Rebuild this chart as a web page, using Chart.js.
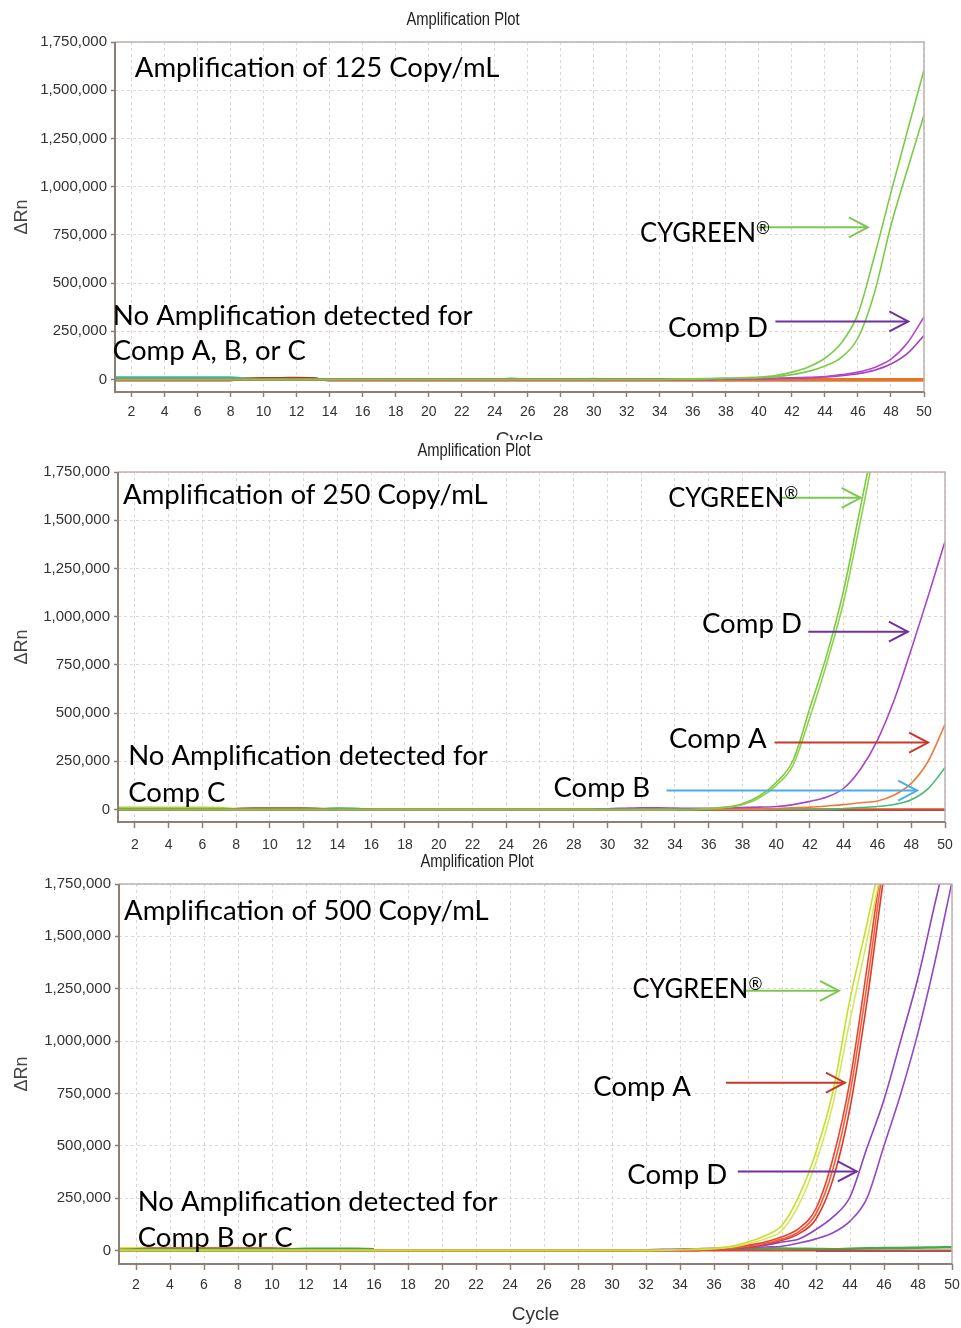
<!DOCTYPE html>
<html><head><meta charset="utf-8">
<script src="https://cdn.jsdelivr.net/npm/chart.js@4.4.0/dist/chart.umd.min.js"></script>
<style>
html,body{margin:0;padding:0;background:#fff;}
body{width:961px;height:1328px;position:relative;overflow:hidden;}
.panel{position:absolute;left:0;width:961px;background:#fff;}
canvas{display:block;}
</style></head><body>
<div class="panel" style="top:0;height:460px;z-index:1"><canvas id="c1" width="961" height="460"></canvas></div>
<div class="panel" style="top:440px;height:420px;z-index:2"><canvas id="c2" width="961" height="420"></canvas></div>
<div class="panel" style="top:852px;height:476px;z-index:3"><canvas id="c3" width="961" height="476"></canvas></div>
<script>
// ---------- data ----------
const cycles = [1,2,3,4,5,6,7,8,9,10,11,12,13,14,15,16,17,18,19,20,21,22,23,24,25,26,27,28,29,30,31,32,33,34,35,36,37,38,39,40,41,42,43,44,45,46,47,48,49,50];
const xTickValues = [2,4,6,8,10,12,14,16,18,20,22,24,26,28,30,32,34,36,38,40,42,44,46,48,50];
const yTickValues = [0,250000,500000,750000,1000000,1250000,1500000,1750000];

// Panel 1: 125 Copy/mL
const p1Cygreen1 = [0,0,0,0,0,0,0,0,0,0, 0,0,0,0,0,0,0,0,0,0, 0,0,0,0,0,0,0,0,0,0, 0,0,0,0,2000,3000,5000,7000,9000,12000, 20000,38000,65000,110000,190000,340000,640000,970000,1290000,1605000];
const p1Cygreen2 = [0,0,0,0,0,0,0,0,0,0, 0,0,0,0,0,0,0,0,0,0, 0,0,0,0,0,0,0,0,0,0, 0,0,0,0,1000,2000,4000,5000,7000,9000, 14000,25000,42000,70000,115000,215000,450000,800000,1090000,1371000];
const p1CompD1 = [0,0,0,0,0,0,0,0,0,0, 0,0,0,0,0,0,0,0,0,0, 0,0,0,0,0,0,0,0,0,0, 0,0,0,0,0,0,0,2000,3000,5000, 6000,8000,11000,15000,25000,38000,62000,105000,190000,324000];
const p1CompD2 = [0,0,0,0,0,0,0,0,0,0, 0,0,0,0,0,0,0,0,0,0, 0,0,0,0,0,0,0,0,0,0, 0,0,0,0,0,0,0,2000,3000,4000, 5000,7000,9000,13000,20000,30000,48000,80000,135000,228000];
const p1CompA = [0,0,0,0,0,0,0,0,0,0, 0,0,0,0,0,0,0,0,0,0, 0,0,0,0,0,0,0,0,0,0, 0,0,0,0,0,0,0,0,0,0, 0,0,0,0,0,0,0,0,0,0];
const p1CompB = [12000,12000,12000,12000,12000,12000,12000,12000,4000,0, 0,0,0,0,0,0,0,0,0,0, 0,0,0,0,5000,0,0,0,0,4000, 0,0,0,0,0,0,0,0,0,0, 0,0,3000,4000,3000,0,0,0,0,0];
const p1CompC = [-5000,-5000,-5000,-5000,-5000,-5000,-5000,-5000,6000,8000, 8000,9000,7000,-5000,-5000,-5000,-5000,-5000,-5000,-5000, -5000,-5000,-5000,-5000,-5000,-5000,-5000,-5000,-5000,-5000, -5000,-5000,-5000,-5000,-5000,-5000,-5000,-5000,-5000,-5000, -5000,-5000,-5000,-5000,-5000,-5000,-5000,-5000,-5000,-5000];

// Panel 2: 250 Copy/mL
const p2Cygreen1 = [0,0,0,0,0,0,0,0,0,0, 0,0,0,0,0,0,0,0,0,0, 0,0,0,0,0,0,0,0,0,0, 0,0,0,0,0,5000,12000,30000,70000,140000, 255000,527000,803000,1139000,1571000,1990000,2300000,2550000,2750000,2900000];
const p2Cygreen2 = [0,0,0,0,0,0,0,0,0,0, 0,0,0,0,0,0,0,0,0,0, 0,0,0,0,0,0,0,0,0,0, 0,0,0,0,0,4000,10000,25000,60000,125000, 230000,480000,760000,1080000,1500000,1930000,2250000,2500000,2700000,2850000];
const p2CompD = [0,0,0,0,0,0,0,0,0,0, 0,0,0,0,0,0,0,0,0,0, 0,0,0,0,0,0,0,0,0,4000, 6000,8000,8000,7000,6000,6000,8000,10000,12000,15000, 25000,42000,65000,110000,210000,360000,570000,830000,1105000,1390000];
const p2CompA = [0,0,0,0,0,0,0,0,0,0, 0,0,0,0,0,0,0,0,0,0, 0,0,0,0,0,0,0,0,0,0, 0,0,0,0,0,0,0,0,0,5000, 8000,12000,18000,25000,35000,44000,75000,135000,250000,440000];
const p2CompB = [0,0,0,0,0,0,0,0,0,0, 0,0,0,0,0,0,0,0,0,0, 0,0,0,0,0,0,0,0,0,0, 0,0,0,0,0,0,0,0,0,0, 0,0,0,5000,10000,15000,26000,50000,108000,216000];
const p2Base = [0,0,0,0,0,0,0,0,0,0, 0,0,0,0,0,0,0,0,0,0, 0,0,0,0,0,0,0,0,0,0, 0,0,0,0,0,0,0,0,0,0, 0,0,0,0,0,0,0,0,0,0];
const p2Navy = [null,null,null,null,null,null,null,null,null,null, null,null,null,null,null,null,null,null,null,null, null,null,null,null,null,null,null,null,null,null, null,null,null,-3000,-3000,-3000,-3000,-3000,-3000,-3000, -3000,-3000,-3000,-3000,-3000,-3000,-3000,-3000,-3000,-3000];
const p2Noise1 = [10000,10000,10000,10000,10000,10000,9000,3000,null,null, null,null,null,null,null,null,null,null,null,null, null,null,null,null,null,null,null,null,null,null, null,null,null,null,null,null,null,null,null,null, null,null,null,null,null,null,null,null,null,null];
const p2Noise2 = [0,0,0,0,0,0,0,4000,6000,6000, 6000,6000,4000,0,null,null,null,null,null,null, null,null,null,null,null,null,null,null,null,null, null,null,null,null,null,null,null,null,null,null, null,null,null,null,null,null,null,null,null,null];
const p2Noise3 = [null,null,null,null,null,null,null,null,null,-2000, -2000,-1000,3000,6000,5000,0,null,null,null,null, null,null,null,null,null,null,null,null,null,null, null,null,null,null,null,null,null,null,null,null, null,null,null,null,null,null,null,null,null,null];

// Panel 3: 500 Copy/mL
const p3Cygreen1 = [0,0,0,0,0,0,0,0,0,0, 0,0,0,0,0,0,0,0,0,0, 0,0,0,0,0,0,0,0,0,0, 0,0,2000,4000,6000,10000,20000,40000,70000,120000, 260000,470000,760000,1200000,1560000,1950000,2300000,2600000,2850000,3050000];
const p3Cygreen2 = [0,0,0,0,0,0,0,0,0,0, 0,0,0,0,0,0,0,0,0,0, 0,0,0,0,0,0,0,0,0,0, 0,0,0,3000,5000,8000,15000,32000,55000,95000, 220000,420000,700000,1100000,1480000,1880000,2250000,2550000,2800000,3000000];
const p3CompA1 = [0,0,0,0,0,0,0,0,0,0, 0,0,0,0,0,0,0,0,0,0, 0,0,0,0,0,0,0,0,0,0, 0,0,0,3000,5000,8000,14000,25000,40000,65000, 105000,200000,440000,810000,1350000,1920000,2400000,2800000,3100000,3300000];
const p3CompA2 = [0,0,0,0,0,0,0,0,0,0, 0,0,0,0,0,0,0,0,0,0, 0,0,0,0,0,0,0,0,0,0, 0,0,0,0,0,6000,10000,20000,33000,55000, 90000,175000,390000,750000,1270000,1860000,2350000,2750000,3050000,3250000];
const p3CompA3 = [0,0,0,0,0,0,0,0,0,0, 0,0,0,0,0,0,0,0,0,0, 0,0,0,0,0,0,0,0,0,0, 0,0,0,0,0,5000,9000,16000,28000,48000, 80000,150000,340000,680000,1190000,1790000,2300000,2700000,3000000,3200000];
const p3CompD1 = [0,0,0,0,0,0,0,0,0,0, 0,0,0,0,0,0,0,0,0,0, 0,0,0,0,0,0,0,0,0,0, 0,3000,5000,6000,8000,10000,13000,17000,25000,40000, 55000,100000,160000,255000,490000,720000,1008000,1302000,1658000,2000000];
const p3CompD2 = [0,0,0,0,0,0,0,0,0,0, 0,0,0,0,0,0,0,0,0,0, 0,0,0,0,0,0,0,0,0,0, 0,0,0,0,0,7000,9000,12000,16000,20000, 35000,55000,84000,140000,250000,500000,752000,1040000,1380000,1760000];
const p3Base = [0,0,0,0,0,0,0,0,0,0, 0,0,0,0,0,0,0,0,0,0, 0,0,0,0,0,0,0,0,0,0, 0,0,0,0,0,0,0,0,0,0, 0,0,0,0,0,0,0,0,0,0];
const p3Green = [3000,5000,5000,5000,5000,5000,5000,5000,5000,5000, 5000,8000,8000,8000,8000,6000,null,null,null,null, null,null,null,null,null,null,null,null,null,null, null,null,null,null,null,6000,7000,8000,8000,9000, 8000,7000,6000,8000,10000,12000,12000,13000,14000,15000];
const p3Blue = [null,null,null,null,null,null,null,null,null,null, null,null,null,null,null,null,null,null,null,null, null,null,null,null,null,null,null,null,null,null, null,null,null,null,null,null,null,null,null,null, null,-3000,-3000,-3000,-3000,-3000,-3000,-3000,-3000,-3000];
const p3Yellow = [12000,12000,5000,null,null,null,null,null,null,null, null,null,null,null,null,null,null,null,null,null, null,null,null,null,null,null,null,null,null,null, null,null,null,null,null,null,null,null,null,null, null,null,null,null,null,null,null,null,null,null];
const p3Red2 = [5000,10000,10000,10000,10000,10000,10000,10000,10000,10000, 8000,0,null,null,null,null,null,null,null,null, null,null,null,null,null,null,null,null,null,null, null,null,null,null,null,null,null,null,null,null, null,null,null,null,null,null,null,null,null,null];

// ---------- drawing ----------
const AXIS_FONT = '"Liberation Sans Narrow","Arial Narrow","Liberation Sans",Arial,sans-serif';
const NOTE_FONT = 'Lato, Carlito, Calibri, "Open Sans", sans-serif';

function framePlugin(){
  return {
    id:'frame',
    afterDatasetsDraw(chart){
      const {ctx, chartArea:a} = chart;
      ctx.save();
      ctx.strokeStyle = '#bdb3b0'; ctx.lineWidth = 1.5;
      ctx.beginPath(); ctx.moveTo(a.left, a.top); ctx.lineTo(a.right, a.top); ctx.lineTo(a.right, a.bottom); ctx.stroke();
      ctx.strokeStyle = '#8c7f78'; ctx.lineWidth = 2;
      ctx.beginPath(); ctx.moveTo(a.left, a.top); ctx.lineTo(a.left, a.bottom); ctx.lineTo(a.right, a.bottom); ctx.stroke();
      ctx.restore();
    }
  };
}

function notesPlugin(notes){
  return {
    id:'notes',
    afterDraw(chart){
      const {ctx} = chart;
      const xs = chart.scales.x, ys = chart.scales.y;
      ctx.save();
      // panel title (condensed)
      ctx.font = '18px "Liberation Sans", Arial, sans-serif';
      ctx.fillStyle = '#222';
      ctx.textAlign = 'center'; ctx.textBaseline = 'middle';
      ctx.save();
      ctx.translate(notes.title.x, notes.title.y);
      ctx.scale(0.82, 1);
      ctx.fillText('Amplification Plot', 0, 0);
      ctx.restore();
      // arrows
      notes.arrows.forEach(a => {
        const x1 = xs.getPixelForValue(a.c1), x2 = xs.getPixelForValue(a.c2), y = ys.getPixelForValue(a.v);
        ctx.strokeStyle = a.color; ctx.lineWidth = 2;
        ctx.beginPath(); ctx.moveTo(x1, y); ctx.lineTo(x2, y); ctx.stroke();
        ctx.beginPath(); ctx.moveTo(x2 - 19, y - 10); ctx.lineTo(x2, y); ctx.lineTo(x2 - 19, y + 10); ctx.stroke();
      });
      // texts
      ctx.textAlign = 'left'; ctx.textBaseline = 'alphabetic';
      ctx.fillStyle = '#000';
      notes.texts.forEach(t => {
        const x = xs.getPixelForValue(t.c), y = ys.getPixelForValue(t.v);
        const sx = t.reg ? 0.985 : 1.06;
        ctx.save();
        ctx.translate(x, y);
        ctx.scale(sx, 1);
        ctx.font = '26px ' + NOTE_FONT;
        ctx.fillText(t.text, 0, 0);
        if (t.reg) {
          const w = ctx.measureText(t.text).width;
          ctx.font = '17px ' + NOTE_FONT;
          ctx.fillText('\u00AE', w, -8);
        }
        ctx.restore();
      });
      ctx.restore();
    }
  };
}

function makePanel(id, cfg){
  const H = cfg.height;
  return new Chart(document.getElementById(id), {
    type:'line',
    data:{
      datasets: cfg.series.map(s => ({
        data: cycles.map((c, i) => ({x:c, y:s.values[i]})),
        borderColor: s.color, borderWidth: s.width || 1.6,
        pointRadius:0, cubicInterpolationMode:'monotone', fill:false, spanGaps:false
      }))
    },
    options:{
      responsive:false, animation:false, devicePixelRatio:1,
      layout:{padding:{left:6, top:cfg.area.top, right:961 - cfg.area.right, bottom:0}},
      plugins:{legend:{display:false}, tooltip:{enabled:false}, title:{display:false}},
      scales:{
        x:{
          type:'linear', min:1, max:50,
          afterBuildTicks: s => { s.ticks = xTickValues.map(v => ({value:v})); },
          afterFit: s => { s.height = H - cfg.area.bottom; s.paddingLeft = 0; s.paddingRight = 0; },
          ticks:{font:{family:AXIS_FONT, size:14}, color:'#333', padding:cfg.xPad, maxRotation:0, autoSkip:false},
          grid:{color:'#e4d4d4', lineWidth:1, tickLength:cfg.xTick, tickColor:'#8c7f78', tickWidth:1.5},
          border:{display:false, dash:[3,3]},
          title:{display:cfg.xTitle, text:'Cycle', font:{family:AXIS_FONT, size:19}, color:'#333', padding:{top:0, bottom:cfg.xTitlePad}}
        },
        y:{
          type:'linear', min:-65000, max:1750000,
          afterBuildTicks: s => { s.ticks = yTickValues.map(v => ({value:v})); },
          afterFit: s => { s.width = cfg.area.left - 6; s.paddingTop = 0; s.paddingBottom = 0; },
          ticks:{font:{family:AXIS_FONT, size:15}, color:'#333', padding:4, callback: v => v.toLocaleString('en-US')},
          grid:{color:'#e4d4d4', lineWidth:1, tickLength:4, tickColor:'#8c7f78', tickWidth:1.5},
          border:{display:false, dash:[3,3]},
          title:{display:true, text:'\u0394Rn', font:{family:AXIS_FONT, size:18}, color:'#444', padding:{top:5, bottom:0}}
        }
      }
    },
    plugins:[framePlugin(), notesPlugin(cfg.notes)]
  });
}

makePanel('c1', {
  height:460, area:{left:115, top:42, right:924, bottom:392}, xPad:7, xTick:5, xTitle:true, xTitlePad:9,
  series:[
    {values:p1Cygreen1, color:'#7ccb46'},
    {values:p1Cygreen2, color:'#7ccb46'},
    {values:p1CompD1, color:'#b348c8'},
    {values:p1CompD2, color:'#a63fc0'},
    {values:p1CompA, color:'#e8741c', width:3},
    {values:p1CompB, color:'#3fb3a6', width:2},
    {values:p1CompC, color:'#a8401c', width:2}
  ],
  notes:{
    title:{x:463, y:20},
    texts:[
      {text:'Amplification of 125 Copy/mL', c:2.2, v:1568000},
      {text:'No Amplification detected for', c:0.87, v:280000},
      {text:'Comp A, B, or C', c:0.87, v:99000},
      {text:'CYGREEN', c:32.8, v:711000, reg:true},
      {text:'Comp D', c:34.5, v:218000}
    ],
    arrows:[
      {c1:39.9, c2:46.6, v:789000, color:'#7cc852'},
      {c1:41.0, c2:49.05, v:301000, color:'#7030a0'}
    ]
  }
});

makePanel('c2', {
  height:420, area:{left:118, top:32, right:945, bottom:382}, xPad:9, xTick:6, xTitle:false, xTitlePad:0,
  series:[
    {values:p2Cygreen1, color:'#7ccb3c'},
    {values:p2Cygreen2, color:'#8fd24e'},
    {values:p2CompD, color:'#a845c6'},
    {values:p2CompA, color:'#ef7a3a'},
    {values:p2CompB, color:'#45b872'},
    {values:p2Base, color:'#d8502a', width:2.5},
    {values:p2Noise1, color:'#a8d040', width:2},
    {values:p2Noise2, color:'#a83a1a', width:2},
    {values:p2Noise3, color:'#30b070', width:2},
    {values:p2Navy, color:'#283a8c', width:2}
  ],
  notes:{
    title:{x:474, y:11},
    texts:[
      {text:'Amplification of 250 Copy/mL', c:1.3, v:1584000},
      {text:'CYGREEN', c:33.6, v:1569000, reg:true},
      {text:'Comp D', c:35.6, v:917000},
      {text:'Comp A', c:33.65, v:321000},
      {text:'Comp B', c:26.8, v:67000},
      {text:'No Amplification detected for', c:1.6, v:228000},
      {text:'Comp C', c:1.6, v:41000}
    ],
    arrows:[
      {c1:40.2, c2:45.0, v:1616000, color:'#7cc852'},
      {c1:41.9, c2:47.8, v:922000, color:'#7030a0'},
      {c1:39.9, c2:49.0, v:347000, color:'#c8392b'},
      {c1:33.5, c2:48.35, v:98000, color:'#4aaee6'}
    ]
  }
});

makePanel('c3', {
  height:476, area:{left:119, top:32, right:952, bottom:412}, xPad:7, xTick:6, xTitle:true, xTitlePad:2,
  series:[
    {values:p3Cygreen1, color:'#c6df2c'},
    {values:p3Cygreen2, color:'#d6e85a'},
    {values:p3CompA1, color:'#e8452c'},
    {values:p3CompA2, color:'#f0603e'},
    {values:p3CompA3, color:'#dc3a26'},
    {values:p3CompD1, color:'#8e42c2'},
    {values:p3CompD2, color:'#9448c6'},
    {values:p3Base, color:'#d84630', width:2},
    {values:p3Green, color:'#38b048', width:2.5},
    {values:p3Yellow, color:'#e6e040', width:2},
    {values:p3Red2, color:'#c83a24', width:2},
    {values:p3Blue, color:'#4a66c4', width:2}
  ],
  notes:{
    title:{x:477, y:10},
    texts:[
      {text:'Amplification of 500 Copy/mL', c:1.3, v:1578000},
      {text:'No Amplification detected for', c:2.1, v:186000},
      {text:'Comp B or C', c:2.1, v:14000},
      {text:'CYGREEN', c:31.2, v:1206000, reg:true},
      {text:'Comp A', c:28.9, v:739000},
      {text:'Comp D', c:30.9, v:315000}
    ],
    arrows:[
      {c1:37.7, c2:43.35, v:1240000, color:'#7cc852'},
      {c1:36.7, c2:43.7, v:801000, color:'#c8392b'},
      {c1:37.4, c2:44.4, v:377000, color:'#7030a0'}
    ]
  }
});
</script>
</body></html>
